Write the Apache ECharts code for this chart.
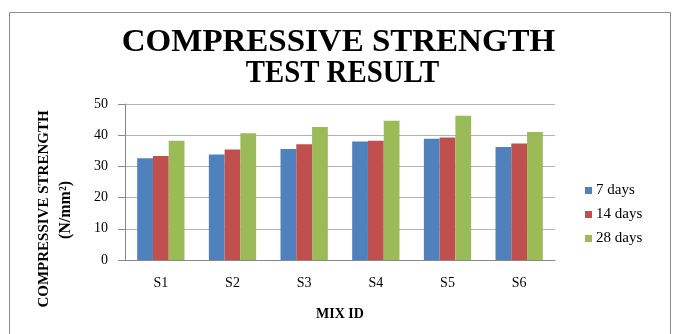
<!DOCTYPE html>
<html><head><meta charset="utf-8">
<script src="https://cdn.jsdelivr.net/npm/echarts@6/dist/echarts.min.js"></script>
<style>html,body{margin:0;padding:0;background:#fff}#c{width:678px;height:334px}</style>
</head><body><div id="c"></div>
<script>
var categories = ['S1','S2','S3','S4','S5','S6'];
var seriesNames = ['7 days','14 days','28 days'];
var days7  = [32.6, 33.8, 35.6, 38.0, 38.9, 36.2];
var days14 = [33.3, 35.4, 37.1, 38.2, 39.3, 37.3];
var days28 = [38.2, 40.6, 42.6, 44.6, 46.2, 41.0];
var yTicks = [0, 10, 20, 30, 40, 50];
var colors = ['#4F81BD','#C0504D','#9BBB59'];
var serif = '"Liberation Serif","Times New Roman",serif';

var chart = echarts.init(document.getElementById('c'));
var data = [days7, days14, days28];
chart.setOption({
  animation: false,
  backgroundColor: '#fff',
  legend: {
    orient: 'vertical', left: 580, top: 178, itemGap: 9,
    itemWidth: 7, itemHeight: 7, icon: 'rect',
    textStyle: { fontFamily: serif, fontSize: 15, color: '#000', padding: [0,0,0,-1] },
    data: seriesNames
  },
  grid: { left: 125, top: 104, width: 430, height: 156 },
  xAxis: {
    type: 'category', data: categories,
    axisLine: { lineStyle: { color: '#888' } },
    axisTick: { show: false },
    axisLabel: { fontFamily: serif, fontSize: 14, color: '#000', margin: 16 },
    name: 'MIX ID', nameLocation: 'middle', nameGap: 47,
    nameTextStyle: { fontFamily: serif, fontWeight: 'bold', fontSize: 14, color: '#000' }
  },
  yAxis: {
    type: 'value', min: yTicks[0], max: yTicks[yTicks.length-1], interval: 10,
    axisLine: { show: true, lineStyle: { color: '#888' } },
    axisTick: { show: true, length: 7, lineStyle: { color: '#888' } },
    axisLabel: { fontFamily: serif, fontSize: 14, color: '#000', margin: 17 },
    splitLine: { lineStyle: { color: '#b4b4b4' } }
  },
  graphic: [
    { type: 'rect', shape: { x: 9.5, y: 12.5, width: 661, height: 340 },
      style: { fill: 'none', stroke: '#8c8c8c', lineWidth: 1 }, silent: true },
    { type: 'text', x: 338.5, y: 43, scaleX: 1.064,
      style: { text: 'COMPRESSIVE STRENGTH', align: 'center', verticalAlign: 'middle',
        font: 'bold 31px ' + serif, fill: '#000' } },
    { type: 'text', x: 342.5, y: 73.5, scaleX: 0.93,
      style: { text: 'TEST RESULT', align: 'center', verticalAlign: 'middle',
        font: 'bold 31px ' + serif, fill: '#000' } },
    { type: 'text', x: 44, y: 209, rotation: Math.PI/2,
      style: { text: 'COMPRESSIVE STRENGTH', align: 'center', verticalAlign: 'middle',
        font: 'bold 15px ' + serif, fill: '#000' } },
    { type: 'text', x: 66, y: 210, rotation: Math.PI/2,
      style: { text: '(N/mm²)', align: 'center', verticalAlign: 'middle',
        font: 'bold 16px ' + serif, fill: '#000' } }
  ],
  series: seriesNames.map(function(n, i){
    return { name: n, type: 'bar', data: data[i], barGap: '0%', barCategoryGap: '34%',
      itemStyle: { color: colors[i] } };
  })
});
</script></body></html>
